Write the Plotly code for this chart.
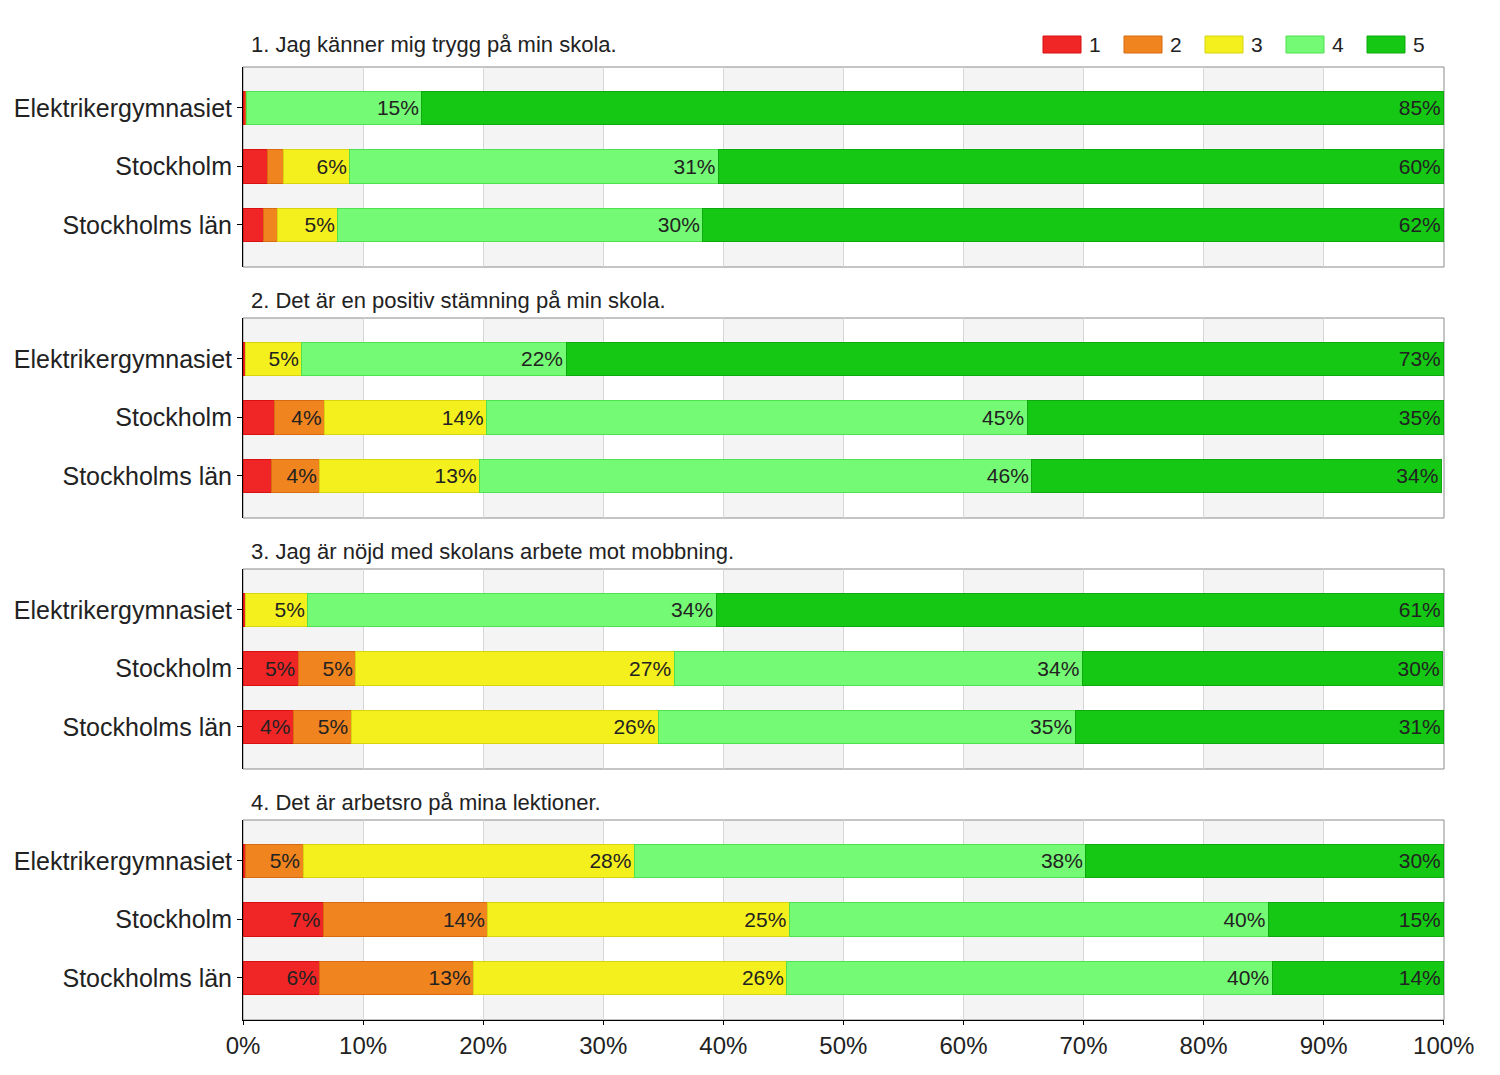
import plotly.graph_objects as go

W, H = 1500, 1075
OFF = 8  # page body margin of the browser

categories = ["Elektrikergymnasiet", "Stockholm", "Stockholms län"]
ratings = ["1", "2", "3", "4", "5"]
titles = [
    "1. Jag känner mig trygg på min skola.",
    "2. Det är en positiv stämning på min skola.",
    "3. Jag är nöjd med skolans arbete mot mobbning.",
    "4. Det är arbetsro på mina lektioner.",
]

# percent per rating (rows: rating 1..5, columns: categories)
q1_values = [[0.2, 2.0, 1.7], [0.1, 1.4, 1.2], [0.0, 5.5, 5.0], [14.6, 30.7, 30.4], [85.1, 60.4, 61.7]]
q2_values = [[0.2, 2.6, 2.4], [0.0, 4.2, 4.0], [4.7, 13.5, 13.3], [22.0, 45.0, 46.0], [73.1, 34.7, 34.1]]
q3_values = [[0.2, 4.6, 4.2], [0.0, 4.8, 4.8], [5.2, 26.5, 25.6], [34.0, 34.0, 34.7], [60.6, 30.0, 30.7]]
q4_values = [[0.2, 6.7, 6.4], [4.8, 13.7, 12.8], [27.6, 25.1, 26.1], [37.6, 39.9, 40.4], [29.8, 14.6, 14.3]]
questions = [q1_values, q2_values, q3_values, q4_values]

x_ticks = [0, 10, 20, 30, 40, 50, 60, 70, 80, 90, 100]
x_tick_labels = [f"{t}%" for t in x_ticks]

colors = ["#f02626", "#f0841e", "#f4f01e", "#74fa74", "#14c814"]
edge_colors = ["#d81010", "#d86a10", "#d8d410", "#50e050", "#10a810"]

FONT = "Liberation Sans, Arial, sans-serif"
TXT = "#222222"

left_px, right_px = 243 - OFF, 1444 - OFF
panel_tops = [67 - OFF, 318 - OFF, 569 - OFF, 820 - OFF]
panel_h = 200
title_y = [45 - OFF, 300 - OFF, 551 - OFF, 802 - OFF]


def px_x(p):
    return p / W


def px_y(p):
    return 1 - p / H


fig = go.Figure()
layout_axes = {}
shapes = []
annotations = []

for i, (qv, title) in enumerate(zip(questions, titles)):
    n = i + 1
    xa = "x" if n == 1 else f"x{n}"
    ya = "y" if n == 1 else f"y{n}"
    for r in range(5):
        vals = qv[r]
        texts = [f"{int(v + 0.5)}%" if v >= 3.5 else "" for v in vals]
        fig.add_trace(go.Bar(
            y=categories, x=vals, orientation="h",
            name=ratings[r], legendgroup=ratings[r], showlegend=False,
            marker=dict(color=colors[r], line=dict(color=edge_colors[r], width=1)),
            width=0.575,
            text=texts, textposition="inside", insidetextanchor="end",
            textfont=dict(size=21, color=TXT, family=FONT),
            textangle=0, cliponaxis=False,
            xaxis=xa, yaxis=ya, hoverinfo="skip",
        ))
    top = panel_tops[i]
    dom = [px_y(top + panel_h), px_y(top)]
    last = (i == 3)
    layout_axes["xaxis" if n == 1 else f"xaxis{n}"] = dict(
        domain=[px_x(left_px), px_x(right_px)], anchor=ya, range=[0, 100.02],
        tickvals=x_ticks, ticktext=x_tick_labels, showticklabels=last,
        showgrid=True, gridcolor="#d6d6d6", gridwidth=1, zeroline=False,
        showline=last, linecolor="#000000", linewidth=1,
        ticks="outside" if last else "", ticklen=4, tickcolor="#000000",
        tickfont=dict(size=24, color=TXT, family=FONT),
        fixedrange=True,
    )
    layout_axes["yaxis" if n == 1 else f"yaxis{n}"] = dict(
        domain=dom, anchor=xa, type="category",
        categoryorder="array", categoryarray=categories,
        range=[2.72, -0.70],
        showline=True, linecolor="#000000", linewidth=1,
        ticks="outside", ticklen=5, tickcolor="#000000",
        tickfont=dict(size=25, color=TXT, family=FONT),
        showgrid=False, zeroline=False, fixedrange=True,
    )
    for b in range(0, 100, 20):
        shapes.append(dict(type="rect", xref=xa, yref=f"{ya} domain",
                           x0=b, x1=b + 10, y0=0, y1=1,
                           fillcolor="#f4f4f4", line=dict(width=0), layer="below"))
    shapes.append(dict(type="rect", xref=f"{xa} domain", yref=f"{ya} domain",
                       x0=0, x1=1, y0=0, y1=1, fillcolor="rgba(0,0,0,0)",
                       line=dict(color="#8a8a8a", width=1), layer="below"))
    annotations.append(dict(text=title, xref="paper", yref="paper",
                            x=px_x(249 - OFF), y=px_y(title_y[i]),
                            xanchor="left", yanchor="middle", showarrow=False,
                            font=dict(size=22, color=TXT, family=FONT)))

# legend: wide colour swatches with labels
leg_x0, leg_step, sw_w = 1043 - OFF, 81, 38
sw_top, sw_bot = 36 - OFF, 53 - OFF
for r in range(5):
    x0 = leg_x0 + r * leg_step
    shapes.append(dict(type="rect", xref="paper", yref="paper",
                       x0=px_x(x0), x1=px_x(x0 + sw_w),
                       y0=px_y(sw_bot), y1=px_y(sw_top),
                       fillcolor=colors[r], line=dict(color=edge_colors[r], width=1),
                       layer="above"))
    annotations.append(dict(text=ratings[r], xref="paper", yref="paper",
                            x=px_x(x0 + sw_w + 6), y=px_y((sw_top + sw_bot) / 2),
                            xanchor="left", yanchor="middle", showarrow=False,
                            font=dict(size=21, color=TXT, family=FONT)))

fig.update_layout(
    width=W, height=H, autosize=False,
    margin=dict(l=0, r=0, t=0, b=0, autoexpand=False),
    paper_bgcolor="white", plot_bgcolor="white",
    barmode="stack", bargap=0.4, showlegend=False,
    font=dict(family=FONT, color=TXT),
    shapes=shapes, annotations=annotations,
    **layout_axes,
)

fig.write_html("out.html")
